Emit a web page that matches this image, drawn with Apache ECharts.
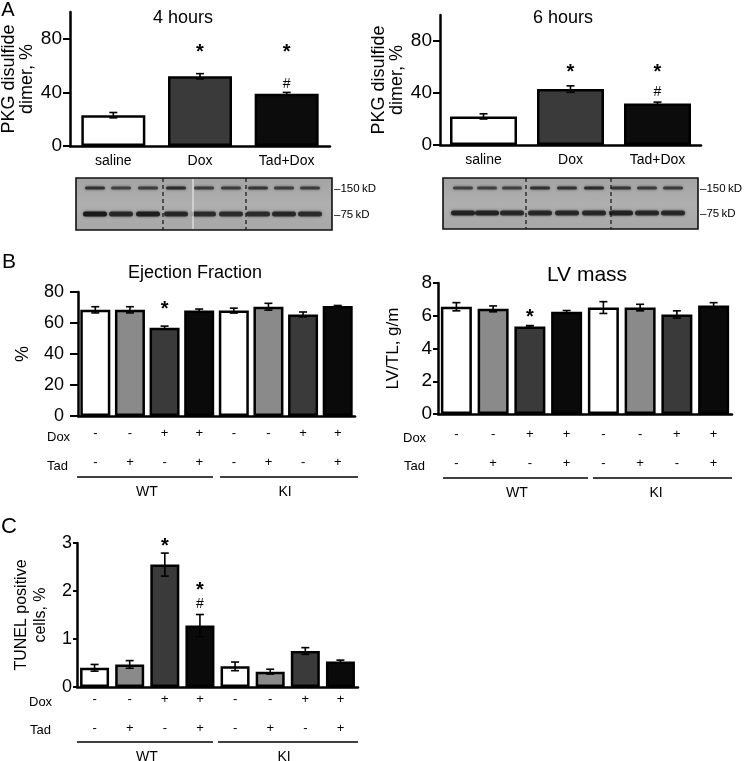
<!DOCTYPE html>
<html><head><meta charset="utf-8">
<script src="https://cdn.jsdelivr.net/npm/echarts@6/dist/echarts.min.js"></script>
<style>html,body{margin:0;padding:0;background:#fff}#c{width:745px;height:761px}</style>
</head><body><div id="c"></div>
<script>
const FONT = 'Liberation Sans, Arial, Helvetica, sans-serif';

// ---------- Panel A data ----------
const aCategories = ['saline', 'Dox', 'Tad+Dox'];
const a4hMean = [23, 52, 39];
const a4hErr = [2, 2, 1];
const a4hStar = [null, 70, 70];
const a4hHash = [null, null, 46];
const a6hMean = [22, 43, 32];
const a6hErr = [2, 2.5, 1];
const a6hStar = [null, 56, 56];
const a6hHash = [null, null, 41];
const aColors = ['#ffffff', '#3a3a3a', '#0c0c0c'];
const aTicks = [0, 40, 80];

// ---------- Panels B and C data ----------
const groupCategories = ['WT1', 'WT2', 'WT3', 'WT4', 'KI1', 'KI2', 'KI3', 'KI4'];
const doxSigns = ['-', '-', '+', '+', '-', '-', '+', '+'];
const tadSigns = ['-', '+', '-', '+', '-', '+', '-', '+'];
const groupNames = ['WT', 'KI'];
const bcColors = ['#ffffff', '#8a8a8a', '#3a3a3a', '#0a0a0a', '#ffffff', '#8a8a8a', '#3a3a3a', '#0a0a0a'];

const efMean = [68.5, 68.5, 57, 68, 68, 70.5, 65.5, 71];
const efErr = [2, 2, 1, 1, 1.6, 2.2, 1.6, 0.3];
const efStar = [null, null, 69, null, null, null, null, null];

const lvMean = [6.55, 6.42, 5.35, 6.25, 6.5, 6.5, 6.08, 6.62];
const lvErr = [0.25, 0.18, 0.05, 0.07, 0.36, 0.2, 0.22, 0.18];
const lvStar = [null, null, 5.9, null, null, null, null, null];

const tunelMean = [0.40, 0.47, 2.55, 1.28, 0.43, 0.32, 0.75, 0.53];
const tunelErr = [0.07, 0.08, 0.24, 0.23, 0.09, 0.05, 0.07, 0.03];
const tunelStar = [null, null, 2.92, 2.02, null, null, null, null];
const tunelHash = [null, null, null, 1.73, null, null, null, null];

// ---------- helpers ----------
function grid(left, top, width, height) {
  return { left, top, width, height, containLabel: false, outerBoundsMode: 'none' };
}
function yAxis(gridIndex, max, interval, name, nameGap, nameSize, nameLH, labelSize, labelMargin, tickLen, custom) {
  const ax = {
    type: 'value', gridIndex, min: 0, max, interval,
    name, nameLocation: 'middle', nameGap, nameRotate: 90,
    nameTextStyle: { fontFamily: FONT, fontSize: nameSize, color: '#000', lineHeight: nameLH },
    axisLine: { show: true, lineStyle: { color: '#000', width: 2.5 } },
    axisTick: { show: true, length: tickLen, lineStyle: { color: '#000', width: 2 } },
    axisLabel: { fontFamily: FONT, fontSize: labelSize, color: '#000', margin: labelMargin },
    splitLine: { show: false }
  };
  if (custom) { ax.axisTick.customValues = custom; ax.axisLabel.customValues = custom; }
  return ax;
}
function xAxisA(gridIndex) {
  return {
    type: 'category', gridIndex, data: aCategories,
    axisLine: { show: true, lineStyle: { color: '#000', width: 2.5 } },
    axisTick: { show: false },
    axisLabel: { fontFamily: FONT, fontSize: 14, color: '#000', margin: 8, interval: 0 }
  };
}
function xAxisBC(gridIndex, margin, lh) {
  return {
    type: 'category', gridIndex, data: groupCategories,
    axisLine: { show: true, lineStyle: { color: '#000', width: 2.5 } },
    axisTick: { show: false },
    axisLabel: {
      interval: 0, margin,
      formatter: (v, i) => '{s|' + doxSigns[i] + '}\n{s|' + tadSigns[i] + '}',
      rich: { s: { fontFamily: FONT, fontSize: 13, color: '#000', lineHeight: lh } }
    }
  };
}
function barSeries(k, mean, colors, width) {
  return {
    type: 'bar', xAxisIndex: k, yAxisIndex: k, barWidth: width, silent: true,
    itemStyle: { borderColor: '#000', borderWidth: 2.5 },
    data: mean.map((v, i) => ({ value: v, itemStyle: { color: colors[i] } }))
  };
}
function errSeries(k, mean, err) {
  return {
    type: 'custom', xAxisIndex: k, yAxisIndex: k, silent: true, z: 5,
    data: mean.map((v, i) => [i, v, err[i]]),
    renderItem: (params, api) => {
      const x = api.value(0), m = api.value(1), e = api.value(2);
      const t = api.coord([x, m + e]), b = api.coord([x, m - e]);
      const w = 4, st = { stroke: '#000', lineWidth: 1.6 };
      return { type: 'group', children: [
        { type: 'line', shape: { x1: t[0], y1: t[1], x2: b[0], y2: b[1] }, style: st },
        { type: 'line', shape: { x1: t[0] - w, y1: t[1], x2: t[0] + w, y2: t[1] }, style: st },
        { type: 'line', shape: { x1: b[0] - w, y1: b[1], x2: b[0] + w, y2: b[1] }, style: st }
      ] };
    }
  };
}
function markSeries(k, ys, text, size, weight) {
  const data = [];
  ys.forEach((y, i) => { if (y !== null) data.push([i, y]); });
  return {
    type: 'custom', xAxisIndex: k, yAxisIndex: k, silent: true, z: 6, data,
    renderItem: (params, api) => {
      const p = api.coord([api.value(0), api.value(1)]);
      return { type: 'text', style: { text, x: p[0], y: p[1], align: 'center', verticalAlign: 'middle',
        fontFamily: FONT, fontSize: size, fontWeight: weight, fill: '#000' } };
    }
  };
}
function txt(text, x, y, size, align, extra) {
  return Object.assign({ type: 'text', style: { text, x, y, fontFamily: FONT, fontSize: size, fill: '#000',
    align: align || 'center', verticalAlign: 'middle' } }, extra || {});
}
function hline(x1, x2, y, w) {
  return { type: 'line', shape: { x1, y1: y, x2, y2: y }, style: { stroke: '#000', lineWidth: w || 1.3 } };
}
function blot(x, y, w, h, dashes, lanes, y150, y75, int150, int75, labelX, extraLine) {
  const els = [];
  els.push({ type: 'rect', shape: { x, y, width: w, height: h },
    style: { fill: new echarts.graphic.LinearGradient(0, 0, 0, 1, [
      { offset: 0, color: '#a4a4a4' }, { offset: 0.5, color: '#afafaf' }, { offset: 1, color: '#a7a7a7' }]) } });
  lanes.forEach((cx, i) => {
    els.push({ type: 'rect', shape: { x: cx - 10, y: y150 - 1.5, width: 20, height: 3, r: 1.5 },
      style: { fill: '#202020', opacity: int150[i], shadowBlur: 3, shadowColor: 'rgba(0,0,0,0.6)' } });
    els.push({ type: 'rect', shape: { x: cx - 12, y: y75 - 2.5, width: 24, height: 5, r: 2.5 },
      style: { fill: '#161616', opacity: int75[i], shadowBlur: 3, shadowColor: 'rgba(0,0,0,0.6)' } });
  });
  if (extraLine) els.push({ type: 'line', shape: { x1: extraLine, y1: y + 1, x2: extraLine, y2: y + h - 1 },
    style: { stroke: '#e6e6e6', lineWidth: 1.2 } });
  dashes.forEach(dx => els.push({ type: 'line', shape: { x1: dx, y1: y, x2: dx, y2: y + h },
    style: { stroke: '#111', lineWidth: 1.2, lineDash: [4, 3] } }));
  els.push({ type: 'rect', shape: { x, y, width: w, height: h }, style: { fill: 'none', stroke: '#111', lineWidth: 1.6 } });
  els.push(txt('\u2013150\u2009kD', labelX, y150 + 1, 11.5, 'left'));
  els.push(txt('\u201375\u2009kD', labelX, y75 + 1, 11.5, 'left'));
  return els;
}

// ---------- layout ----------
const grids = [
  grid(70, 12, 260, 134),   // A 4h
  grid(440, 15, 261, 130),  // A 6h
  grid(78, 292, 277, 124),  // B EF
  grid(438, 283, 294, 131), // B LV
  grid(77, 543, 281, 144)   // C TUNEL
];

const option = {
  animation: false,
  backgroundColor: '#ffffff',
  grid: grids,
  xAxis: [xAxisA(0), xAxisA(1), xAxisBC(2, 2.5, 29), xAxisBC(3, 5.5, 29), xAxisBC(4, -2.5, 29)],
  yAxis: [
    yAxis(0, 100, 40, 'PKG disulfide\ndimer, %', 34, 18, 18, 19, 8, 7, aTicks),
    yAxis(1, 100, 40, 'PKG disulfide\ndimer, %', 34, 18, 18, 19, 8, 7, aTicks),
    yAxis(2, 80, 20, '%', 45, 18, 20, 18, 14, 8),
    yAxis(3, 8, 2, 'LV/TL, g/m', 35, 17, 19, 19, 6, 5),
    yAxis(4, 3, 1, 'TUNEL positive\ncells, %', 27, 16, 19, 18, 5, 4)
  ],
  series: [
    barSeries(0, a4hMean, aColors, 64), errSeries(0, a4hMean, a4hErr),
    markSeries(0, a4hStar, '*', 20, 'bold'), markSeries(0, a4hHash, '#', 14, 'normal'),
    barSeries(1, a6hMean, aColors, 67), errSeries(1, a6hMean, a6hErr),
    markSeries(1, a6hStar, '*', 20, 'bold'), markSeries(1, a6hHash, '#', 14, 'normal'),
    barSeries(2, efMean, bcColors, 30), errSeries(2, efMean, efErr),
    markSeries(2, efStar, '*', 20, 'bold'),
    barSeries(3, lvMean, bcColors, 31), errSeries(3, lvMean, lvErr),
    markSeries(3, lvStar, '*', 20, 'bold'),
    barSeries(4, tunelMean, bcColors, 29), errSeries(4, tunelMean, tunelErr),
    markSeries(4, tunelStar, '*', 20, 'bold'), markSeries(4, tunelHash, '#', 14, 'normal')
  ],
  graphic: [].concat(
    [
      txt('A', 8, 10, 20), txt('B', 9, 262, 21), txt('C', 9, 527, 22),
      txt('4 hours', 183, 18, 18), txt('6 hours', 563, 18, 18),
      txt('Ejection Fraction', 195, 273, 18), txt('LV mass', 587, 275, 21),
      // B left row labels and groups
      txt('Dox', 47, 437, 13, 'left'), txt('Tad', 47, 466, 13, 'left'),
      hline(77, 213, 477), hline(220, 358, 477),
      txt(groupNames[0], 147, 492, 14), txt(groupNames[1], 285, 492, 14),
      // B right
      txt('Dox', 403, 438, 13, 'left'), txt('Tad', 404, 466, 13, 'left'),
      hline(443, 588, 478), hline(593, 732, 478),
      txt(groupNames[0], 517, 493, 14), txt(groupNames[1], 656, 493, 14),
      // C
      txt('Dox', 29, 702, 13, 'left'), txt('Tad', 30, 730, 13, 'left'),
      hline(77, 213, 742), hline(218, 358, 742),
      txt(groupNames[0], 147, 757, 14), txt(groupNames[1], 284, 757, 14)
    ],
    blot(76, 178, 256, 52, [163, 246],
      [95, 121, 148, 176, 204, 231, 258, 284, 310], 188, 214,
      [0.8, 0.65, 0.7, 0.85, 0.7, 0.7, 0.75, 0.7, 0.7],
      [0.95, 0.8, 0.9, 0.8, 0.75, 0.75, 0.75, 0.8, 0.75], 334, 193),
    blot(443, 178, 255, 51, [526, 611],
      [463, 487, 512, 540, 567, 594, 621, 647, 673], 188, 213,
      [0.65, 0.65, 0.65, 0.8, 0.8, 0.85, 0.75, 0.7, 0.7],
      [0.85, 0.85, 0.8, 0.8, 0.8, 0.8, 0.85, 0.8, 0.8], 700, 0)
  )
};

const chart = echarts.init(document.getElementById('c'));
chart.setOption(option);
</script></body></html>
